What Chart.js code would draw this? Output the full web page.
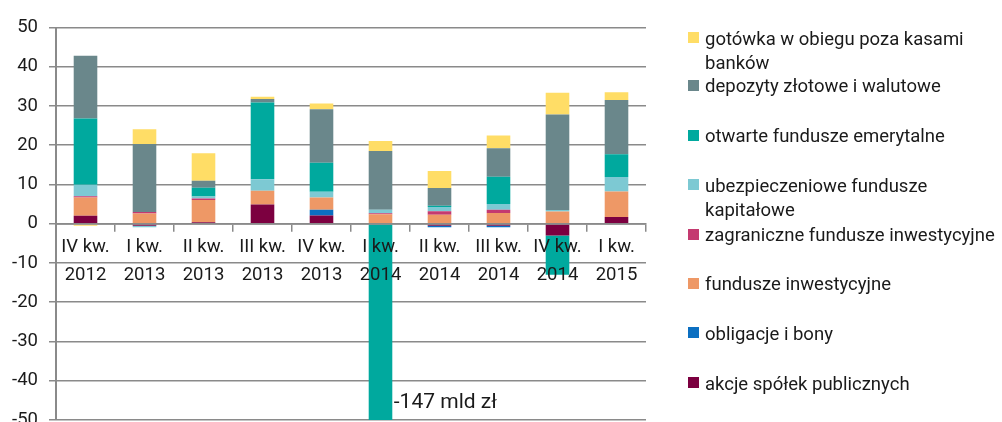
<!DOCTYPE html>
<html><head><meta charset="utf-8">
<script src="https://cdn.jsdelivr.net/npm/chart.js@4"></script>
<style>
html,body{margin:0;padding:0;background:#fff;overflow:hidden;}
#wrap{position:relative;width:1002px;height:422px;overflow:hidden;}
#cbox{position:absolute;left:0;top:0;width:1002px;height:442px;}
#legend{position:absolute;left:0;top:0;width:1002px;height:422px;font-family:Roboto,sans-serif;font-size:18.5px;color:#1a1a1a;}
.li{position:absolute;left:705px;line-height:24px;white-space:nowrap;}
.sw{position:absolute;left:688px;width:11px;height:11px;}
</style></head>
<body><div id="wrap"><div id="cbox"><canvas id="c"></canvas></div><div id="legend"></div></div>
<script>
const categories = [["IV kw.","2012"],["I kw.","2013"],["II kw.","2013"],["III kw.","2013"],["IV kw.","2013"],["I kw.","2014"],["II kw.","2014"],["III kw.","2014"],["IV kw.","2014"],["I kw.","2015"]];
const yTicks = [50,40,30,20,10,0,-10,-20,-30,-40,-50];

const akcje        = [2.0, -0.5, 0.35, 4.9, 2.1, 0, -0.5, -0.5, -3.0, 1.7];
const obligacje    = [0, 0, 0, 0, 1.45, 0, -0.4, -0.4, 0, 0];
const funduszeInw  = [4.7, 2.6, 5.7, 3.5, 3.1, 2.4, 2.3, 2.7, 3.1, 6.5];
const zagraniczne  = [0.3, 0.4, 0.4, 0, 0, 0.25, 0.85, 0.85, 0, 0];
const ubezpieczeniowe = [2.9, -0.4, 0.5, 2.9, 1.5, 0.9, 1.1, 1.5, 0.4, 3.7];
const ofe          = [16.9, 0, 2.2, 19.6, 7.4, -147, 0.35, 6.9, -10.0, 5.8];
const depozyty     = [16.0, 17.3, 1.8, 0.85, 13.6, 15.0, 4.5, 7.3, 24.3, 13.8];
const gotowka      = [-0.5, 3.8, 7.0, 0.6, 1.5, 2.5, 4.3, 3.2, 5.6, 2.0];

const seriesNames = ["akcje spółek publicznych","obligacje i bony","fundusze inwestycyjne","zagraniczne fundusze inwestycyjne","ubezpieczeniowe fundusze\nkapitałowe","otwarte fundusze emerytalne","depozyty złotowe i walutowe","gotówka w obiegu poza kasami\nbanków"];
const seriesData = [akcje, obligacje, funduszeInw, zagraniczne, ubezpieczeniowe, ofe, depozyty, gotowka];
const seriesColors = ["#7C0040","#0B6FC1","#EE9866","#C43A70","#7DC9D3","#00A99E","#6A878B","#FFDD66"];
const annotationUnit = " mld zł";

const GRID = "#8a8a8a";
const TXT = "#1a1a1a";
Chart.defaults.font.family = "Roboto, sans-serif";
Chart.defaults.color = TXT;

const datasets = seriesData.map((d,i)=>({
  label: seriesNames[i],
  data: d,
  backgroundColor: seriesColors[i],
  borderWidth: 0,
  stack: "s",
  barPercentage: 0.4,
  categoryPercentage: 1.0
}));

const annot = {
  id: "annot",
  afterDatasetsDraw(chart){
    const idx = ofe.findIndex(v => v < yTicks[yTicks.length-1]);
    if (idx < 0) return;
    const meta = chart.getDatasetMeta(5);
    const el = meta.data[idx];
    const ctx = chart.ctx;
    ctx.save();
    ctx.font = "21px Roboto, sans-serif";
    ctx.fillStyle = TXT;
    ctx.textBaseline = "middle";
    ctx.textAlign = "left";
    ctx.fillText(String(ofe[idx]) + annotationUnit, el.x + el.width/2 + 1.5, chart.chartArea.bottom - 17);
    ctx.restore();
  }
};

new Chart(document.getElementById("c"), {
  type: "bar",
  data: { labels: categories, datasets },
  plugins: [annot],
  options: {
    responsive: true,
    maintainAspectRatio: false,
    animation: false,
    layout: { padding: { top: 27.5, right: 356, bottom: 11, left: 0 } },
    plugins: { legend: { display: false }, tooltip: { enabled: false } },
    scales: {
      x: {
        stacked: true,
        position: { y: 0 },
        grid: { display: true, drawOnChartArea: false, drawTicks: true, tickLength: 7, offset: true, color: GRID, lineWidth: 1.5 },
        border: { display: true, color: GRID, width: 1.8, z: 1 },
        ticks: { z: 1, font: { size: 18.5, lineHeight: 1.5 }, color: TXT, padding: 3, maxRotation: 0, autoSkip: false }
      },
      y: {
        stacked: true,
        min: -50, max: 50,
        afterFit(scale){ scale.width = 56; },
        afterBuildTicks(scale){ scale.ticks = yTicks.map(v=>({value:v})); },
        grid: { color: GRID, lineWidth: 1.5, tickLength: 7, drawTicks: true },
        border: { display: true, color: GRID, width: 2 },
        ticks: { font: { size: 18.5 }, color: TXT, padding: 11 }
      }
    }
  }
});

// legend (top to bottom: reverse of stacking order)
const baselines = [45, 92.7, 142.7, 192.3, 241.7, 290.7, 340, 390];
const lg = document.getElementById("legend");
for (let k = 0; k < seriesNames.length; k++) {
  const i = seriesNames.length - 1 - k;
  const b = baselines[k];
  const sw = document.createElement("div");
  sw.className = "sw";
  sw.style.top = (b - 13) + "px";
  sw.style.background = seriesColors[i];
  lg.appendChild(sw);
  const t = document.createElement("div");
  t.className = "li";
  t.style.top = (b - 18.3) + "px";
  t.innerHTML = seriesNames[i].split("\n").join("<br>");
  lg.appendChild(t);
}
</script>
</body></html>
